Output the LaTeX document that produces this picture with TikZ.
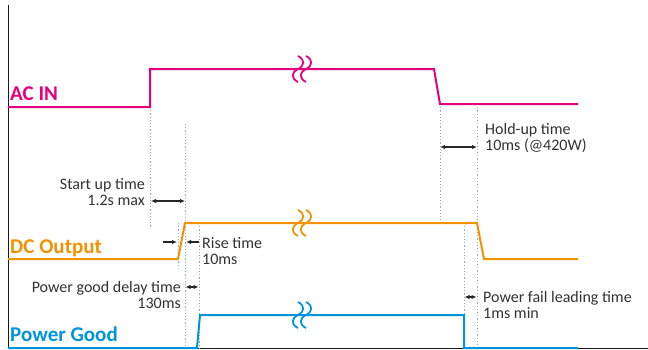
\documentclass[tikz,border=0pt]{standalone}
\usepackage{fontspec}
\setmainfont{Carlito}
\usetikzlibrary{arrows.meta, positioning}

\definecolor{acpink}{RGB}{228,0,127}
\definecolor{dcorange}{RGB}{243,146,0}
\definecolor{pgblue}{RGB}{0,149,219}
\definecolor{txtgray}{RGB}{50,50,50}
\definecolor{guidegray}{RGB}{150,170,190}

\begin{document}
\begin{tikzpicture}[x=1pt, y=-1pt,
        signal/.style={line width=2pt, line join=miter},
        squiggle/.style={line width=1.8pt},
        guide/.style={guidegray, line width=1pt, dash pattern=on 1.2pt off 2pt},
        span/.style={{Latex[length=5pt,width=4.5pt]}-{Latex[length=5pt,width=4.5pt]}, line width=1.2pt, black!85},
        pointer/.style={-{Latex[length=5pt,width=4.5pt]}, line width=1.2pt, black!85},
        sig label/.style={font=\bfseries\fontsize{21}{21}\selectfont, inner sep=0pt},
        note/.style={font=\fontsize{16}{16}\selectfont, text=txtgray, inner sep=0pt}]
        \useasboundingbox (0,0) rectangle (648,349);
        % Define the axes
        \coordinate (ax_top) at (8,5);
        \coordinate (ax_org) at (8,348);
        \coordinate (ax_end) at (648,348);
        \draw[line width=1pt, black!90] (ax_top) -- (ax_org) -- (ax_end);
        % Define the signal corners
        \coordinate (ac_0) at (8,107);   \coordinate (ac_1) at (150,107);
        \coordinate (ac_2) at (150,69);  \coordinate (ac_3) at (434,69);
        \coordinate (ac_4) at (440,104); \coordinate (ac_5) at (578,104);
        \coordinate (dc_0) at (8,259);   \coordinate (dc_1) at (178,259);
        \coordinate (dc_2) at (185,223); \coordinate (dc_3) at (477,223);
        \coordinate (dc_4) at (484,259); \coordinate (dc_5) at (578,259);
        \coordinate (pg_0) at (8,348);   \coordinate (pg_1) at (197,348);
        \coordinate (pg_2) at (200,315); \coordinate (pg_3) at (464,315);
        \coordinate (pg_4) at (464,348); \coordinate (pg_5) at (578,348);
        % Define the guides
        \draw[guide] (150,107) -- (150,227);
        \draw[guide] (185,124) -- (185,349);
        \draw[guide] (178,223) -- (178,265);
        \draw[guide] (199,223) -- (199,349);
        \draw[guide] (440,104) -- (440,220);
        \draw[guide] (477,104) -- (477,349);
        \draw[guide] (464,223) -- (464,349);
        % Define the signals
        \draw[signal, acpink] (ac_0) -- (ac_1) -- (ac_2) -- (ac_3) -- (ac_4) -- (ac_5);
        \draw[signal, dcorange] (dc_0) -- (dc_1) -- (dc_2) -- (dc_3) -- (dc_4) -- (dc_5);
        \draw[signal, pgblue] (pg_0) -- (pg_1) -- (pg_2) -- (pg_3) -- (pg_4) -- (pg_5);
        \foreach \y/\c in {69/acpink, 223/dcorange, 315/pgblue}
            \foreach \x in {298,306}
                \draw[squiggle, \c] (\x,\y-13) .. controls (\x+7,\y-9.5) and (\x+7,\y-3.5) .. (\x,\y)
                    .. controls (\x-7,\y+3.5) and (\x-7,\y+9.5) .. (\x,\y+13);
        % Define the labels
        \node[sig label, acpink, anchor=base west] (ac_lbl) at (10,100) {AC IN};
        \node[sig label, dcorange, anchor=base west] (dc_lbl) at (10,253) {DC Output};
        \node[sig label, pgblue, anchor=base west] (pg_lbl) at (10,341) {Power Good};
        % Define the timings
        \coordinate (hold_a) at (440,147); \coordinate (hold_b) at (477,147);
        \coordinate (start_a) at (151,201); \coordinate (start_b) at (185,201);
        \coordinate (rise_a) at (163,242); \coordinate (rise_b) at (177,242);
        \coordinate (rise_c) at (199,242); \coordinate (rise_d) at (186,242);
        \coordinate (pgd_a) at (185.5,287); \coordinate (pgd_b) at (198.5,287);
        \coordinate (pfl_a) at (464.5,297); \coordinate (pfl_b) at (476.5,297);
        \draw[span] (hold_a) -- (hold_b);
        \draw[span] (start_a) -- (start_b);
        \draw[pointer] (rise_a) -- (rise_b);
        \draw[pointer] (rise_c) -- (rise_d);
        \draw[span] (pgd_a) -- (pgd_b);
        \draw[span] (pfl_a) -- (pfl_b);
        \node[note, anchor=base west, align=left] (hold_txt) at (485,150) {Hold-up time\\10ms (@420W)};
        \node[note, anchor=base east, align=right] (start_txt) at (145,205) {Start up time\\1.2s max};
        \node[note, anchor=base west, align=left] (rise_txt) at (202,264) {Rise time\\10ms};
        \node[note, anchor=base east, align=right] (pgd_txt) at (181,308) {Power good delay time\\130ms};
        \node[note, anchor=base west, align=left] (pfl_txt) at (483,318) {Power fail leading time\\1ms min};
    \end{tikzpicture}
\end{document}
